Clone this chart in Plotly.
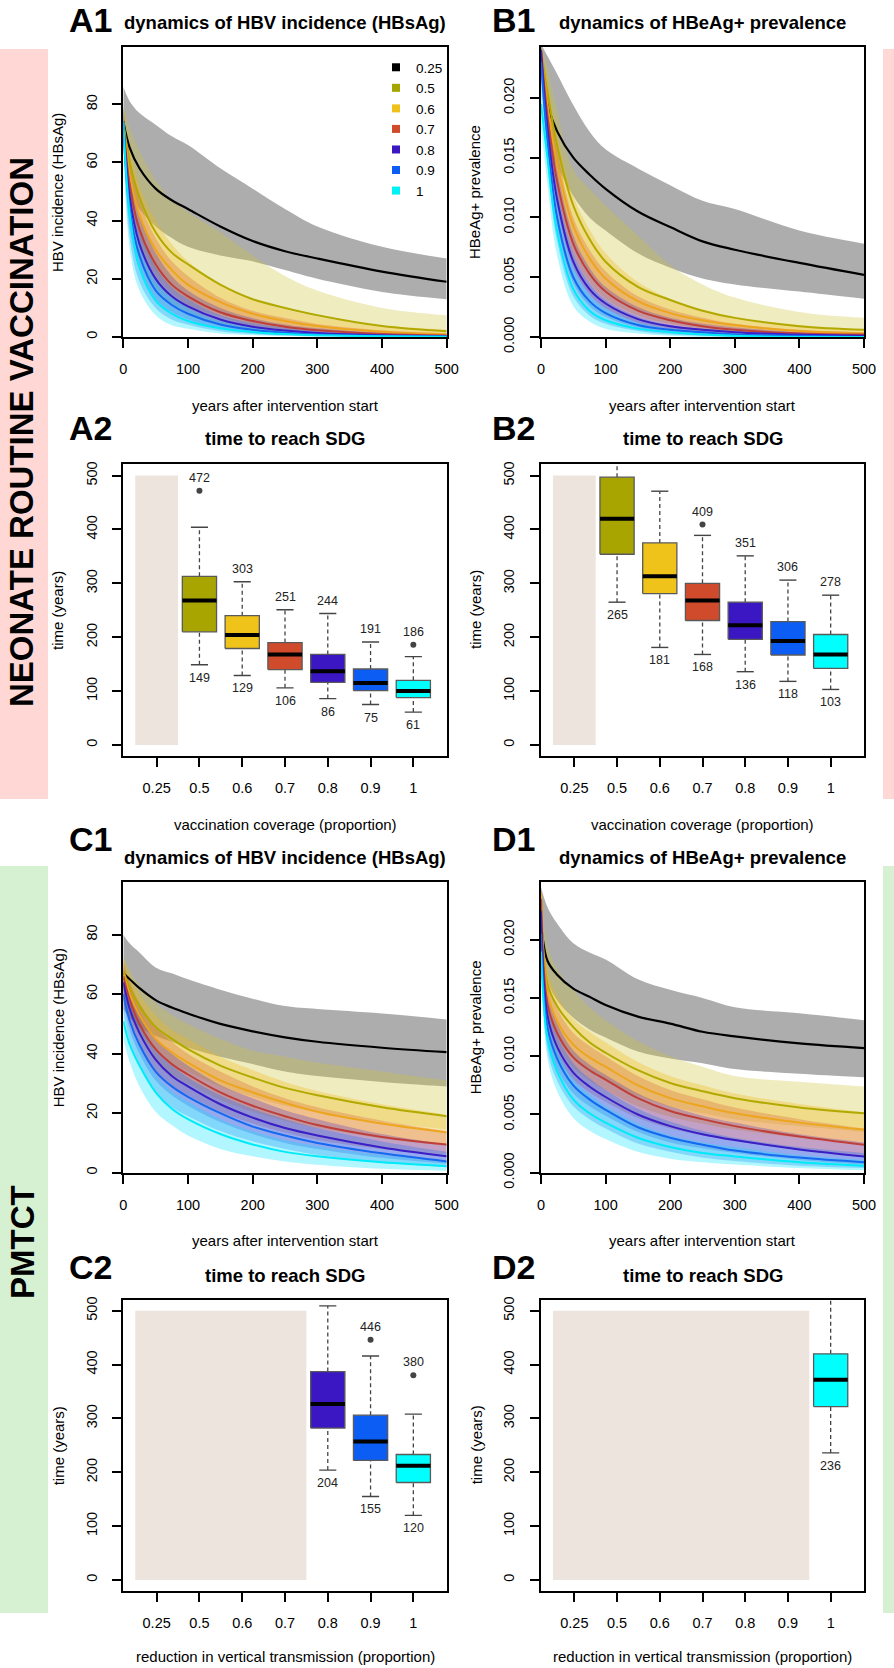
import plotly.graph_objects as go

W, H = 894, 1668
FONT = "Liberation Sans, Arial, Helvetica, sans-serif"

# ---------------- data ----------------
years = [0, 10, 25, 50, 75, 100, 150, 200, 250, 300, 400, 500]
levels = ["0.25", "0.5", "0.6", "0.7", "0.8", "0.9", "1"]
level_pos = [0, 1, 2, 3, 4, 5, 6]

# A1: HBV incidence, neonate vaccination (rows = 0.25 ... 1)
a1_median = [
    [74, 65, 58, 51, 47, 44, 38, 33, 29.5, 27, 22.5, 19],
    [74, 60, 48, 36, 29, 25, 18, 13, 10, 7.5, 3.8, 2],
    [74, 56, 42, 30, 23, 18, 12, 8, 5.5, 3.8, 1.8, 0.9],
    [74, 52, 37, 25, 18, 14, 8.5, 5.5, 3.5, 2.3, 1, 0.5],
    [74, 48, 32, 20, 14, 10.5, 6, 3.5, 2.2, 1.4, 0.6, 0.3],
    [74, 44, 28, 16, 11, 8, 4.3, 2.5, 1.5, 0.9, 0.4, 0.2],
    [74, 42, 24, 12.5, 8, 5.5, 3, 1.7, 1, 0.6, 0.3, 0.1],
]
a1_low = [
    [64, 50, 44, 38, 34, 31, 28, 26, 23, 20, 15.5, 13],
    [68, 48, 35, 23, 17, 13, 8, 5, 3.5, 2.5, 1, 0.5],
    [68, 45, 32, 21, 15, 11, 7, 4, 2.5, 1.5, 0.6, 0.2],
    [68, 42, 27, 17, 11.5, 8.5, 4.5, 2.5, 1.5, 0.9, 0.3, 0.1],
    [68, 38, 23, 13, 8.5, 6, 3, 1.5, 0.8, 0.5, 0.2, 0],
    [68, 34, 19, 10, 6, 4.2, 2, 1, 0.5, 0.3, 0.1, 0],
    [66, 30, 16, 7.5, 4, 2.8, 1.2, 0.6, 0.3, 0.1, 0, 0],
]
a1_high = [
    [86, 81, 77, 73, 69, 66, 58, 51, 44, 38, 31, 27],
    [80, 72, 64, 54, 47, 43, 36, 28, 21, 16, 10, 7.5],
    [79, 66, 52, 40, 32, 26, 18, 13, 9.5, 7, 4, 2.5],
    [79, 62, 47, 34, 26, 21, 13.5, 9, 6.5, 4.5, 2.3, 1.3],
    [79, 58, 42, 29, 21, 16, 10, 6.5, 4.3, 3, 1.5, 0.8],
    [79, 54, 38, 24, 17, 13, 7.5, 4.8, 3.2, 2.1, 1, 0.5],
    [79, 50, 33, 20, 14, 10, 5.5, 3.5, 2.3, 1.5, 0.7, 0.4],
]

# B1: HBeAg+ prevalence, neonate vaccination
b1_median = [
    [0.0238, 0.0195, 0.0172, 0.0150, 0.0136, 0.0124, 0.0105, 0.0092, 0.0080, 0.0073, 0.0062, 0.0052],
    [0.0240, 0.0205, 0.0160, 0.0110, 0.0082, 0.0063, 0.0042, 0.0031, 0.0022, 0.0016, 0.0009, 0.0006],
    [0.0240, 0.0195, 0.0145, 0.0093, 0.0066, 0.0049, 0.0030, 0.0020, 0.0014, 0.0010, 0.0005, 0.0003],
    [0.0240, 0.0185, 0.0130, 0.0078, 0.0053, 0.0038, 0.0022, 0.0014, 0.0009, 0.0006, 0.0003, 0.0002],
    [0.0240, 0.0175, 0.0115, 0.0063, 0.0040, 0.0028, 0.0015, 0.0009, 0.0006, 0.0004, 0.0002, 0.0001],
    [0.0230, 0.0165, 0.0100, 0.0050, 0.0030, 0.0020, 0.0010, 0.0006, 0.0004, 0.0002, 0.0001, 0.0],
    [0.0195, 0.0150, 0.0088, 0.0040, 0.0022, 0.0014, 0.0007, 0.0004, 0.0002, 0.0001, 0.0, 0.0],
]
b1_low = [
    [0.0232, 0.0165, 0.0143, 0.0118, 0.0100, 0.0089, 0.0070, 0.0058, 0.0049, 0.0044, 0.0038, 0.0032],
    [0.0235, 0.0180, 0.0130, 0.0080, 0.0055, 0.0040, 0.0023, 0.0015, 0.0010, 0.0007, 0.0003, 0.0002],
    [0.0235, 0.0175, 0.0120, 0.0070, 0.0046, 0.0032, 0.0018, 0.0011, 0.0007, 0.0004, 0.0002, 0.0001],
    [0.0235, 0.0165, 0.0108, 0.0058, 0.0036, 0.0024, 0.0012, 0.0007, 0.0004, 0.0003, 0.0001, 0.0],
    [0.0235, 0.0155, 0.0093, 0.0045, 0.0026, 0.0017, 0.0008, 0.0004, 0.0002, 0.0001, 0.0, 0.0],
    [0.0215, 0.0145, 0.0080, 0.0034, 0.0018, 0.0011, 0.0005, 0.0002, 0.0001, 0.0, 0.0, 0.0],
    [0.0175, 0.0128, 0.0068, 0.0026, 0.0013, 0.0007, 0.0003, 0.0001, 0.0, 0.0, 0.0, 0.0],
]
b1_high = [
    [0.0245, 0.0235, 0.0220, 0.0194, 0.0172, 0.0157, 0.0141, 0.0127, 0.0114, 0.0107, 0.0089, 0.0078],
    [0.0245, 0.0225, 0.0190, 0.0140, 0.0124, 0.0110, 0.0085, 0.0060, 0.0044, 0.0033, 0.0021, 0.0016],
    [0.0245, 0.0215, 0.0170, 0.0118, 0.0090, 0.0070, 0.0046, 0.0032, 0.0023, 0.0017, 0.0010, 0.0006],
    [0.0245, 0.0205, 0.0155, 0.0100, 0.0073, 0.0055, 0.0034, 0.0023, 0.0016, 0.0011, 0.0006, 0.0004],
    [0.0245, 0.0195, 0.0140, 0.0085, 0.0058, 0.0042, 0.0025, 0.0016, 0.0011, 0.0008, 0.0004, 0.0002],
    [0.0245, 0.0185, 0.0125, 0.0070, 0.0045, 0.0031, 0.0017, 0.0010, 0.0007, 0.0005, 0.0002, 0.0001],
    [0.0215, 0.0170, 0.0110, 0.0058, 0.0035, 0.0024, 0.0012, 0.0007, 0.0004, 0.0003, 0.0001, 0.0],
]

# C1: HBV incidence, PMTCT
c1_median = [
    [67, 65, 62, 58, 55.5, 53.5, 50, 47.5, 45.5, 44, 42, 40.5],
    [68, 62, 56, 49, 45, 41.5, 36, 32, 28.5, 26, 22, 19],
    [67, 60, 53, 45, 40.5, 37, 31, 27, 23.5, 20.5, 16.5, 13.5],
    [66, 58, 50, 41.5, 36.5, 33, 27, 22.5, 19, 16, 12, 9.5],
    [64, 55, 47, 38, 32.5, 29, 23, 18.5, 15, 12.5, 8.5, 5.5],
    [60, 51, 43, 34, 29, 25.5, 20, 15.5, 12.5, 10, 6.5, 3.8],
    [51, 43, 36, 27, 21.5, 18, 13, 9.5, 7, 5.5, 3.5, 2.2],
]
c1_low = [
    [55, 52, 49, 46, 44, 42, 39, 36.5, 34, 32.5, 30.5, 29],
    [62, 55, 48, 41, 37, 34, 29, 25.5, 22.5, 20.5, 17, 14.5],
    [61, 53, 46, 38, 33, 30, 24.5, 20.5, 17.5, 15, 11.5, 9],
    [60, 51, 43, 34, 29.5, 26, 20.5, 16.5, 13.5, 11, 8, 6],
    [58, 48, 40, 31, 26, 22.5, 17, 13, 10, 8, 5, 3],
    [54, 44, 36, 27, 22, 19, 14, 10.5, 8, 6, 3.5, 1.8],
    [45, 37, 29, 20.5, 16, 12.5, 8, 5.5, 3.8, 2.7, 1.3, 0.6],
]
c1_high = [
    [80, 77, 74, 69, 67, 65, 61.5, 58.5, 56, 55, 53.5, 51.5],
    [73, 68, 63, 57, 53, 50, 45, 41, 39, 37, 34, 31],
    [72, 66, 60, 53, 48, 45, 39, 34.5, 30.5, 27.5, 23, 19.5],
    [71, 64, 57, 49, 44, 40, 34, 29, 25, 22, 17.5, 14],
    [69, 61, 54, 45, 40, 36, 29.5, 25, 21, 18, 13, 9.5],
    [65, 57, 50, 41, 36, 32, 26, 21.5, 18, 15, 10.5, 7],
    [56, 49, 42, 33, 27.5, 24, 18, 14, 11, 9, 6, 4],
]

# D1: HBeAg+ prevalence, PMTCT
d1_median = [
    [0.0215, 0.0182, 0.0170, 0.0158, 0.0151, 0.0144, 0.0134, 0.0128, 0.0121, 0.0117, 0.0111, 0.0107],
    [0.0240, 0.0162, 0.0143, 0.0125, 0.0112, 0.0103, 0.0088, 0.0077, 0.0070, 0.0064, 0.0056, 0.0051],
    [0.0240, 0.0155, 0.0130, 0.0110, 0.0099, 0.0091, 0.0075, 0.0064, 0.0057, 0.0051, 0.0043, 0.0037],
    [0.0235, 0.0145, 0.0120, 0.0099, 0.0088, 0.0080, 0.0064, 0.0053, 0.0046, 0.0040, 0.0031, 0.0024],
    [0.0225, 0.0135, 0.0108, 0.0086, 0.0074, 0.0065, 0.0050, 0.0040, 0.0033, 0.0028, 0.0020, 0.0014],
    [0.0205, 0.0125, 0.0098, 0.0075, 0.0063, 0.0054, 0.0039, 0.0030, 0.0024, 0.0019, 0.0013, 0.0009],
    [0.0190, 0.0115, 0.0087, 0.0063, 0.0051, 0.0043, 0.0030, 0.0022, 0.0017, 0.0014, 0.0009, 0.0006],
]
d1_low = [
    [0.0220, 0.0165, 0.0148, 0.0133, 0.0123, 0.0116, 0.0104, 0.0098, 0.0094, 0.0089, 0.0085, 0.0082],
    [0.0235, 0.0140, 0.0118, 0.0098, 0.0087, 0.0079, 0.0066, 0.0057, 0.0051, 0.0046, 0.0040, 0.0035],
    [0.0235, 0.0135, 0.0110, 0.0090, 0.0079, 0.0071, 0.0057, 0.0048, 0.0042, 0.0037, 0.0030, 0.0025],
    [0.0225, 0.0125, 0.0100, 0.0080, 0.0069, 0.0061, 0.0047, 0.0038, 0.0032, 0.0027, 0.0020, 0.0014],
    [0.0215, 0.0115, 0.0089, 0.0068, 0.0057, 0.0049, 0.0035, 0.0026, 0.0021, 0.0017, 0.0011, 0.0007],
    [0.0195, 0.0105, 0.0079, 0.0057, 0.0046, 0.0038, 0.0025, 0.0018, 0.0013, 0.0010, 0.0006, 0.0004],
    [0.0180, 0.0098, 0.0070, 0.0047, 0.0036, 0.0029, 0.0018, 0.0012, 0.0009, 0.0007, 0.0004, 0.0002],
]
d1_high = [
    [0.0245, 0.0228, 0.0214, 0.0197, 0.0189, 0.0183, 0.0166, 0.0157, 0.0150, 0.0142, 0.0137, 0.0131],
    [0.0245, 0.0195, 0.0175, 0.0157, 0.0142, 0.0131, 0.0113, 0.0100, 0.0091, 0.0083, 0.0078, 0.0074],
    [0.0245, 0.0175, 0.0152, 0.0132, 0.0121, 0.0112, 0.0095, 0.0083, 0.0075, 0.0068, 0.0059, 0.0052],
    [0.0243, 0.0165, 0.0141, 0.0120, 0.0109, 0.0100, 0.0083, 0.0071, 0.0063, 0.0056, 0.0046, 0.0038],
    [0.0235, 0.0155, 0.0128, 0.0105, 0.0093, 0.0084, 0.0068, 0.0057, 0.0049, 0.0043, 0.0033, 0.0026],
    [0.0215, 0.0145, 0.0118, 0.0094, 0.0081, 0.0071, 0.0055, 0.0044, 0.0036, 0.0030, 0.0022, 0.0017],
    [0.0200, 0.0132, 0.0105, 0.0080, 0.0067, 0.0057, 0.0042, 0.0032, 0.0026, 0.0022, 0.0015, 0.0011],
]

# Box-plot statistics: time to reach SDG (years)
a2_pos = [1, 2, 3, 4, 5, 6]
a2_lower = [149, 129, 106, 86, 75, 61]
a2_q1 = [210, 179, 140, 116, 101, 88]
a2_median = [268, 204, 168, 137, 115, 100]
a2_q3 = [313, 240, 190, 168, 141, 120]
a2_upper = [404, 303, 251, 244, 191, 164]
a2_outliers = [[472], [], [], [], [], [186]]
a2_toplabel = [472, 303, 251, 244, 191, 186]

b2_pos = [1, 2, 3, 4, 5, 6]
b2_lower = [265, 181, 168, 136, 118, 103]
b2_q1 = [354, 281, 231, 196, 167, 142]
b2_median = [420, 313, 268, 222, 193, 168]
b2_q3 = [497, 375, 300, 265, 229, 205]
b2_upper = [545, 471, 389, 351, 306, 278]
b2_outliers = [[], [], [409], [], [], []]
b2_toplabel = [None, None, 409, 351, 306, 278]

c2_pos = [4, 5, 6]
c2_lower = [204, 155, 120]
c2_q1 = [282, 222, 181]
c2_median = [327, 257, 212]
c2_q3 = [387, 306, 233]
c2_upper = [509, 416, 308]
c2_outliers = [[], [446], [380]]
c2_toplabel = [None, 446, 380]

d2_pos = [6]
d2_lower = [236]
d2_q1 = [322]
d2_median = [372]
d2_q3 = [420]
d2_upper = [545]
d2_outliers = [[]]
d2_toplabel = [None]

# not-reached region (upper edge of levels that never reach SDG)
a2_na_until = 0
b2_na_until = 0
c2_na_until = 3
d2_na_until = 5
sdg_horizon = 500

# ---------------- styling ----------------
line_colors = ["#000000", "#B2A900", "#ECA51D", "#BE3E3A", "#3A1EC6", "#1568F0", "#00EAF8"]
band_colors = ["rgba(155,155,155,0.82)", "rgba(205,195,60,0.32)", "rgba(240,185,20,0.32)",
               "rgba(215,85,45,0.28)", "rgba(70,40,200,0.28)", "rgba(25,110,240,0.30)",
               "rgba(0,225,255,0.30)"]
legend_colors = ["#000000", "#A6A400", "#EEC21B", "#CF4B2B", "#3A17C2", "#0B5DF4", "#00F2F7"]
box_colors = ["#A8A400", "#F0C31B", "#D04B2C", "#3A17C2", "#0B5DF4", "#00FFFF"]

fig = go.Figure()

def px(x):
    return x / W

def py(y):
    return 1 - y / H

# subplot pixel boxes: (left, right, top, bottom)
boxes = {
    1: (123.3, 446.7, 47, 337),     # A1
    2: (541, 864, 47, 337),         # B1
    3: (123.3, 446.7, 464, 756),    # A2
    4: (541, 864, 464, 756),        # B2
    5: (123.3, 446.7, 882, 1172.7), # C1
    6: (541, 864, 882, 1172.7),     # D1
    7: (123.3, 446.7, 1300, 1590.7),# C2
    8: (541, 864, 1300, 1590.7),    # D2
}

def axname(k, a):
    return a if k == 1 else f"{a}{k}"

def add_lines(k, med, lo, hi, legend=False):
    xa, ya = axname(k, "x"), axname(k, "y")
    for i in range(7):
        fig.add_trace(go.Scatter(x=years, y=lo[i], mode="lines", line=dict(width=0, shape="spline"),
                                 xaxis=xa, yaxis=ya, showlegend=False, hoverinfo="skip"))
        fig.add_trace(go.Scatter(x=years, y=hi[i], mode="lines", line=dict(width=0, shape="spline"),
                                 fill="tonexty", fillcolor=band_colors[i],
                                 xaxis=xa, yaxis=ya, showlegend=False, hoverinfo="skip"))
    for i in range(7):
        fig.add_trace(go.Scatter(x=years, y=med[i], mode="lines",
                                 line=dict(width=2.2 if i == 0 else 2, color=line_colors[i], shape="spline"),
                                 xaxis=xa, yaxis=ya, showlegend=False))
    if legend:
        for i in range(7):
            fig.add_trace(go.Scatter(x=[None], y=[None], mode="markers", name=levels[i],
                                     marker=dict(symbol="square", size=8, color=legend_colors[i]),
                                     xaxis=xa, yaxis=ya, showlegend=True))

def add_boxes(k, pos, lower, q1, med, q3, upper, outliers, toplabel, na_until):
    xa, ya = axname(k, "x"), axname(k, "y")
    fig.add_shape(type="rect", xref=xa, yref=ya, x0=-0.5, x1=na_until + 0.5, y0=0, y1=sdg_horizon,
                  fillcolor="#ECE4DD", line=dict(width=0), layer="below")
    for j, p in enumerate(pos):
        col = box_colors[p - 1]
        fig.add_trace(go.Scatter(x=[p, p, None, p, p], y=[lower[j], q1[j], None, q3[j], upper[j]],
                                 mode="lines", line=dict(color="#444444", width=1.3, dash="4px,3px"),
                                 xaxis=xa, yaxis=ya, showlegend=False))
        fig.add_trace(go.Scatter(x=[p - 0.2, p + 0.2, None, p - 0.2, p + 0.2],
                                 y=[lower[j], lower[j], None, upper[j], upper[j]],
                                 mode="lines", line=dict(color="#444444", width=1.4),
                                 xaxis=xa, yaxis=ya, showlegend=False))
        fig.add_trace(go.Scatter(x=[p - 0.4, p + 0.4, p + 0.4, p - 0.4, p - 0.4],
                                 y=[q1[j], q1[j], q3[j], q3[j], q1[j]],
                                 mode="lines", fill="toself", fillcolor=col,
                                 line=dict(color="#5a5a5a", width=1.3),
                                 xaxis=xa, yaxis=ya, showlegend=False))
        fig.add_trace(go.Scatter(x=[p - 0.4, p + 0.4], y=[med[j], med[j]], mode="lines",
                                 line=dict(color="#000000", width=4),
                                 xaxis=xa, yaxis=ya, showlegend=False))
        if outliers[j]:
            fig.add_trace(go.Scatter(x=[p] * len(outliers[j]), y=outliers[j], mode="markers",
                                     marker=dict(color="#444444", size=6),
                                     xaxis=xa, yaxis=ya, showlegend=False))
        if toplabel[j] is not None:
            fig.add_annotation(x=p, y=toplabel[j], xref=xa, yref=ya, text=str(toplabel[j]),
                               showarrow=False, yshift=13, font=dict(size=12.5, color="#222"))
        fig.add_annotation(x=p, y=lower[j], xref=xa, yref=ya, text=str(lower[j]),
                           showarrow=False, yshift=-13, font=dict(size=12.5, color="#222"))

add_lines(1, a1_median, a1_low, a1_high, legend=True)
add_lines(2, b1_median, b1_low, b1_high)
add_lines(5, c1_median, c1_low, c1_high)
add_lines(6, d1_median, d1_low, d1_high)
add_boxes(3, a2_pos, a2_lower, a2_q1, a2_median, a2_q3, a2_upper, a2_outliers, a2_toplabel, a2_na_until)
add_boxes(4, b2_pos, b2_lower, b2_q1, b2_median, b2_q3, b2_upper, b2_outliers, b2_toplabel, b2_na_until)
add_boxes(7, c2_pos, c2_lower, c2_q1, c2_median, c2_q3, c2_upper, c2_outliers, c2_toplabel, c2_na_until)
add_boxes(8, d2_pos, d2_lower, d2_q1, d2_median, d2_q3, d2_upper, d2_outliers, d2_toplabel, d2_na_until)

layout = dict(template="none", width=W, height=H, margin=dict(l=0, r=0, t=0, b=0, autoexpand=False),
              paper_bgcolor="white", plot_bgcolor="white",
              font=dict(family=FONT, size=14.5, color="black"),
              legend=dict(x=px(376), y=py(52), xanchor="left", yanchor="top",
                          bgcolor="rgba(0,0,0,0)", font=dict(size=13.5, color="black"), itemwidth=30,
                          tracegroupgap=0, traceorder="normal", borderwidth=0))

axis_common = dict(showgrid=False, zeroline=False, showline=True, mirror=True, automargin=False,
                   linecolor="black", linewidth=2, ticks="outside", ticklen=9, tickwidth=1.8,
                   tickcolor="black", tickfont=dict(size=14.5, family=FONT, color="black"))

yranges = {1: [0, 99.7], 2: [0, 0.02426], 5: [0, 97.7], 6: [0, 0.02496],
           3: [-20.5, 521.5], 4: [-20.5, 521.5], 7: [-20, 520], 8: [-20, 520]}

for k, (l, r, t, b) in boxes.items():
    xa = dict(axis_common, domain=[px(l), px(r)], anchor=axname(k, "y"), ticklabelstandoff=9)
    ya = dict(axis_common, domain=[py(b), py(t)], anchor=axname(k, "x"), tickangle=-90,
              range=yranges[k], ticklabelstandoff=10)
    if k in (1, 2, 5, 6):
        xa.update(range=[0, 500], tickvals=[0, 100, 200, 300, 400, 500])
        if k in (2, 6):
            ya.update(tickvals=[0, 0.005, 0.010, 0.015, 0.020], tickformat=".3f")
        else:
            ya.update(tickvals=[0, 20, 40, 60, 80])
    else:
        xa.update(range=[-0.78, 6.78], tickvals=level_pos, ticktext=levels)
        ya.update(tickvals=[0, 100, 200, 300, 400, 500])
    layout["xaxis" if k == 1 else f"xaxis{k}"] = xa
    layout["yaxis" if k == 1 else f"yaxis{k}"] = ya

fig.update_layout(**layout)

# ---------------- text ----------------
def text(x, y, s, size, bold=False, angle=0, color="black"):
    fig.add_annotation(x=px(x), y=py(y), xref="paper", yref="paper", text=f"<b>{s}</b>" if bold else s,
                       showarrow=False, textangle=angle, xanchor="center", yanchor="middle",
                       font=dict(size=size, color=color, family=FONT))

panel_letters = [("A1", 90, 19.5), ("B1", 513, 19.5), ("A2", 90, 428), ("B2", 513, 428),
                 ("C1", 90, 839), ("D1", 513, 839), ("C2", 90, 1267), ("D2", 513, 1267)]
for s, x, y in panel_letters:
    text(x, y, s, 34, bold=True)

titles = {1: "dynamics of HBV incidence (HBsAg)", 2: "dynamics of HBeAg+ prevalence",
          3: "time to reach SDG", 4: "time to reach SDG",
          5: "dynamics of HBV incidence (HBsAg)", 6: "dynamics of HBeAg+ prevalence",
          7: "time to reach SDG", 8: "time to reach SDG"}
xtitles = {1: "years after intervention start", 2: "years after intervention start",
           3: "vaccination coverage (proportion)", 4: "vaccination coverage (proportion)",
           5: "years after intervention start", 6: "years after intervention start",
           7: "reduction in vertical transmission (proportion)",
           8: "reduction in vertical transmission (proportion)"}
ytitles = {1: "HBV incidence (HBsAg)", 2: "HBeAg+ prevalence", 3: "time (years)", 4: "time (years)",
           5: "HBV incidence (HBsAg)", 6: "HBeAg+ prevalence", 7: "time (years)", 8: "time (years)"}
ytitle_x = {1: 58, 2: 475, 3: 58, 4: 476, 5: 58, 6: 475, 7: 58, 8: 476}

for k, (l, r, t, b) in boxes.items():
    text((l + r) / 2, t - 25, titles[k], 18.5, bold=True)
    text((l + r) / 2, min(b + 68, 1656.5), xtitles[k], 15)
    text(ytitle_x[k], (t + b) / 2, ytitles[k], 15, angle=-90)

# side bands
fig.add_shape(type="rect", xref="paper", yref="paper", x0=px(0), x1=px(48), y0=py(799), y1=py(49),
              fillcolor="#FFD7D5", line=dict(width=0), layer="below")
fig.add_shape(type="rect", xref="paper", yref="paper", x0=px(883), x1=px(894), y0=py(799), y1=py(49),
              fillcolor="#FFD7D5", line=dict(width=0), layer="below")
fig.add_shape(type="rect", xref="paper", yref="paper", x0=px(0), x1=px(48), y0=py(1613), y1=py(866),
              fillcolor="#D6F0D2", line=dict(width=0), layer="below")
fig.add_shape(type="rect", xref="paper", yref="paper", x0=px(883), x1=px(894), y0=py(1613), y1=py(866),
              fillcolor="#D6F0D2", line=dict(width=0), layer="below")
text(22, 432, "NEONATE ROUTINE VACCINATION", 33, bold=True, angle=-90)
text(22, 1242, "PMTCT", 33, bold=True, angle=-90)

fig.write_html("out.html", config={"displayModeBar": False},
               post_script="document.body.style.margin='0px';document.body.style.overflow='hidden';")
